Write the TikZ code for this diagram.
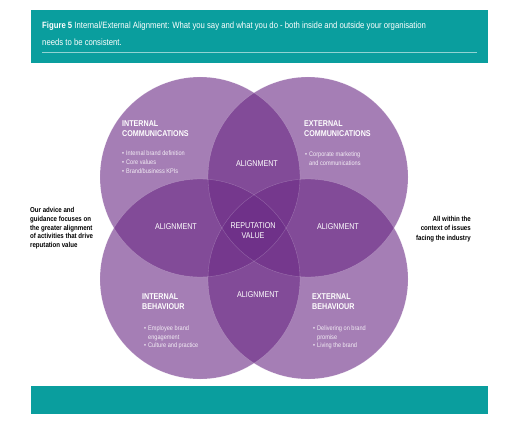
\documentclass[tikz,border=0pt]{standalone}
\usepackage{fontspec}
\setmainfont{Liberation Sans}[FakeStretch=0.85]
\usepackage{xcolor}
\usepackage{tikz}
\usetikzlibrary{positioning}

\definecolor{tealbar}{HTML}{0A9E9E}
\definecolor{vennpurple}{RGB}{108,44,134}

\newcommand{\bul}{\textbullet\hspace{2pt}}
\newcommand{\indbul}{\hphantom{\textbullet\hspace{2pt}}}

\begin{document}
\begin{tikzpicture}[
            x=1pt, y=-1pt,
            every node/.style={inner sep=0pt, text=white},
            circ/.style={fill=vennpurple, fill opacity=0.61},
            rim/.style={draw=white, draw opacity=0.25, line width=0.35pt},
            hd/.style={anchor=west, align=left, font=\bfseries\fontsize{8.4}{10}\selectfont},
            lst/.style={anchor=west, align=left, text=white!92!vennpurple},
            aln/.style={align=center, font=\fontsize{8.4}{10}\selectfont},
            side/.style={text=black, font=\bfseries\fontsize{7.2}{8.8}\selectfont},
        ]
            \useasboundingbox (0,0) rectangle (510,425);
            % bars
            \fill[tealbar] (31,10) rectangle (488,63);
            \fill[tealbar] (31,386) rectangle (488,414);
            \draw[white!55!tealbar, line width=0.7pt] (42,52) -- (477,52);
            \node[anchor=west, align=left, font=\fontsize{9.1}{17}\selectfont] (title) at (42,33.5)
                {\textbf{Figure 5} Internal/External Alignment: What you say and what you do - both inside and outside your organisation\\needs to be consistent.};
            % circles
            \fill[circ] (200,177) circle (100);
            \fill[circ] (308,177) circle (100);
            \fill[circ] (200,279) circle (100);
            \fill[circ] (308,279) circle (100);
            \foreach \cx/\cy in {200/177, 308/177, 200/279, 308/279}
                \draw[rim] (\cx,\cy) circle (100);
            % circle headings
            \node[hd] (intcomm) at (122,129) {INTERNAL\\COMMUNICATIONS};
            \node[hd] (extcomm) at (304,129) {EXTERNAL\\COMMUNICATIONS};
            \node[hd] (intbeh) at (142,302) {INTERNAL\\BEHAVIOUR};
            \node[hd] (extbeh) at (312,302) {EXTERNAL\\BEHAVIOUR};
            % bullet lists
            \node[lst, font=\fontsize{6.6}{9}\selectfont] (intcommlist) at (122,162)
                {\bul Internal brand definition\\\bul Core values\\\bul Brand/business KPIs};
            \node[lst, font=\fontsize{6.6}{9}\selectfont] (extcommlist) at (305,158.5)
                {\bul Corporate marketing\\\indbul and communications};
            \node[lst, font=\fontsize{6.6}{8.5}\selectfont] (intbehlist) at (144,337.5)
                {\bul Employee brand\\\indbul engagement\\\bul Culture and practice};
            \node[lst, font=\fontsize{6.6}{8.5}\selectfont] (extbehlist) at (313,337.5)
                {\bul Delivering on brand\\\indbul promise\\\bul Living the brand};
            % overlaps
            \node[aln] (alntop) at (257,164) {ALIGNMENT};
            \node[aln] (alnleft) at (176,227) {ALIGNMENT};
            \node[aln] (alnright) at (338,227) {ALIGNMENT};
            \node[aln] (alnbottom) at (258,295) {ALIGNMENT};
            \node[aln] (repval) at (253,231) {REPUTATION\\VALUE};
            % side notes
            \node[side, anchor=west, align=left] (advice) at (30,228.3)
                {Our advice and\\guidance focuses on\\the greater alignment\\of activities that drive\\reputation value};
            \node[side, anchor=east, align=right, font=\bfseries\fontsize{7.2}{9.7}\selectfont] (context) at (471,229)
                {All within the\\context of issues\\facing the industry};
        \end{tikzpicture}
\end{document}
